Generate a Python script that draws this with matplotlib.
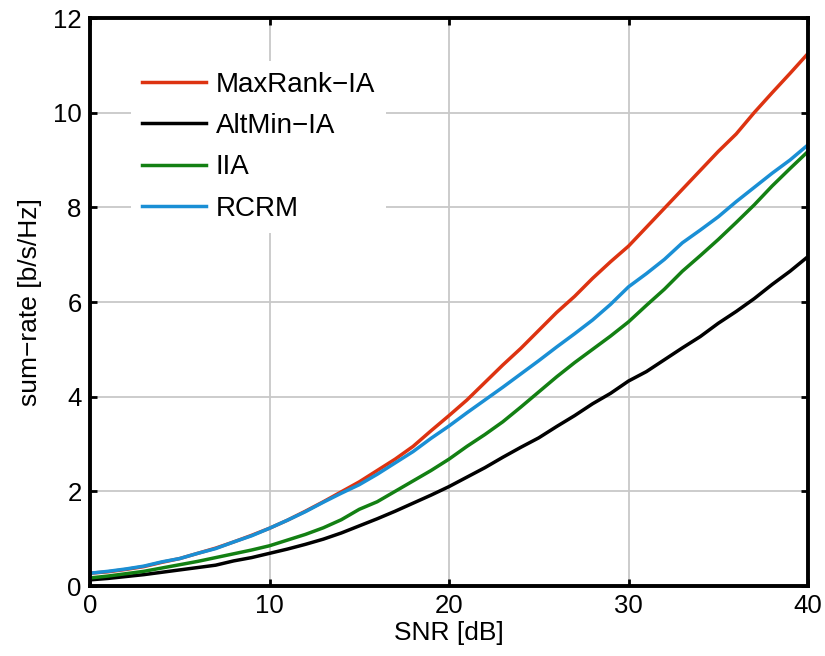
import matplotlib
matplotlib.use("Agg")
import matplotlib.pyplot as plt

snr = list(range(0, 41))
maxrank = [0.27, 0.30, 0.35, 0.41, 0.50, 0.58, 0.69, 0.80, 0.93, 1.07,
           1.22, 1.39, 1.58, 1.78, 1.99, 2.20, 2.44, 2.68, 2.95, 3.28,
           3.60, 3.93, 4.30, 4.67, 5.02, 5.40, 5.78, 6.12, 6.50, 6.85,
           7.18, 7.58, 7.98, 8.38, 8.78, 9.18, 9.55, 10.0, 10.42, 10.83, 11.25]
altmin = [0.13, 0.16, 0.20, 0.24, 0.29, 0.34, 0.39, 0.44, 0.53, 0.60,
          0.69, 0.78, 0.88, 0.99, 1.12, 1.27, 1.42, 1.58, 1.75, 1.92,
          2.10, 2.30, 2.50, 2.72, 2.93, 3.13, 3.37, 3.60, 3.85, 4.07,
          4.33, 4.53, 4.78, 5.03, 5.27, 5.55, 5.80, 6.07, 6.37, 6.65, 6.96]
iia = [0.17, 0.21, 0.26, 0.31, 0.38, 0.45, 0.52, 0.60, 0.68, 0.76,
       0.85, 0.97, 1.09, 1.23, 1.40, 1.62, 1.78, 2.00, 2.22, 2.44,
       2.68, 2.95, 3.20, 3.47, 3.78, 4.10, 4.42, 4.72, 5.00, 5.28,
       5.58, 5.93, 6.27, 6.65, 6.98, 7.32, 7.68, 8.05, 8.45, 8.82, 9.18]
rcrm = [0.27, 0.31, 0.36, 0.42, 0.51, 0.58, 0.69, 0.79, 0.93, 1.06,
        1.22, 1.39, 1.57, 1.77, 1.96, 2.14, 2.36, 2.60, 2.84, 3.12,
        3.38, 3.66, 3.93, 4.20, 4.48, 4.76, 5.05, 5.33, 5.62, 5.95,
        6.32, 6.60, 6.90, 7.25, 7.52, 7.80, 8.12, 8.42, 8.72, 9.00, 9.32]

labels = ["MaxRank\u2212IA", "AltMin\u2212IA", "IIA", "RCRM"]
colors = ["#DD3311", "#000000", "#138013", "#1A8FD5"]

plt.rcParams['font.family'] = ['Liberation Sans', 'DejaVu Sans']

fig = plt.figure(figsize=(8.25, 6.56), dpi=100)
ax = fig.add_axes([90/825, 70/656, 718/825, 568/656])

for ys, lab, c in zip([maxrank, altmin, iia, rcrm], labels, colors):
    ax.plot(snr, ys, color=c, lw=2.5, label=lab)

ax.set_xlim(0, 40)
ax.set_ylim(0, 12)
ax.set_xticks([0, 10, 20, 30, 40])
ax.set_yticks([0, 2, 4, 6, 8, 10, 12])
ax.grid(True, color="#C8C8C8", lw=1.3)
ax.set_axisbelow(True)
for s in ax.spines.values():
    s.set_linewidth(2.8)
ax.tick_params(direction='in', length=5, width=2, top=True, right=True,
               labelsize=18.5, pad=6)
ax.set_xlabel("SNR [dB]", fontsize=19, labelpad=2)
ax.set_ylabel("sum\u2212rate [b/s/Hz]", fontsize=19, labelpad=8)

leg = ax.legend(loc='upper left', bbox_to_anchor=(0.057, 0.925), borderaxespad=0,
                fontsize=20, handlelength=2.3, handletextpad=0.35,
                labelspacing=0.55, frameon=True, fancybox=False)
leg.get_frame().set_edgecolor('none')
leg.get_frame().set_facecolor('white')
leg.get_frame().set_alpha(1)

fig.savefig("out.png", dpi=100)
